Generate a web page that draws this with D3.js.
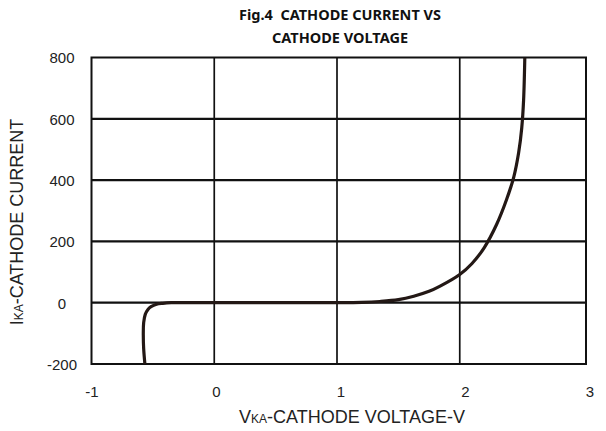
<!DOCTYPE html>
<html>
<head>
<meta charset="utf-8">
<script src="https://cdn.jsdelivr.net/npm/d3@7"></script>
<style>
  body { margin: 0; background: #fff; }
  svg { display: block; }
</style>
</head>
<body>
<div id="chart"></div>
<script>
// curve (V, mA)
const voltage = [-0.565, -0.575, -0.578, -0.575, -0.562, -0.54, -0.515, -0.47, -0.42, -0.35, -0.2, 0, 0.5, 1.0, 1.2, 1.35, 1.5, 1.625, 1.75, 1.84, 2.0, 2.1, 2.2, 2.3, 2.38, 2.44, 2.48, 2.505, 2.52, 2.53]
const current = [-200, -150, -100, -65, -38, -22, -13, -5, -2, 0, 0, 0, 0, 0, 1, 4, 10, 21, 37, 54, 92, 128, 180, 255, 335, 410, 490, 570, 660, 800]
const xTicks = [-1, 0, 1, 2, 3]
const yTicks = [-200, 0, 200, 400, 600, 800]
const titleLines = ["Fig.4\u00a0\u00a0CATHODE CURRENT VS", "CATHODE VOLTAGE"]

const width = 606, height = 431
const plot = { left: 91.5, right: 586, top: 57.5, bottom: 364 }

const svg = d3.select("#chart").append("svg")
  .attr("width", width)
  .attr("height", height)

const x = d3.scaleLinear().domain([-1, 3]).range([plot.left, 582.5])
const y = d3.scaleLinear().domain([-200, 800]).range([plot.bottom, plot.top])
// tick labels sit a little right of the grid in the original
const xLab = d3.scaleLinear().domain([-1, 3]).range([92, 590])

//grid
svg.append("g")
  .selectAll("line")
  .data(xTicks.filter(d => d > -1 && d < 3))
  .join("line")
  .attr("x1", d => x(d)).attr("x2", d => x(d))
  .attr("y1", plot.top).attr("y2", plot.bottom)
  .style("stroke", "#111")
  .style("stroke-width", 1.7)

svg.append("g")
  .selectAll("line")
  .data(yTicks.filter(d => d > -200 && d < 800))
  .join("line")
  .attr("x1", plot.left).attr("x2", plot.right)
  .attr("y1", d => y(d)).attr("y2", d => y(d))
  .style("stroke", "#111")
  .style("stroke-width", 2.2)

//frame
svg.append("rect")
  .attr("x", plot.left).attr("y", plot.top)
  .attr("width", plot.right - plot.left)
  .attr("height", plot.bottom - plot.top)
  .attr("fill", "none")
  .style("stroke", "#111")
  .style("stroke-width", 2)

svg.append("clipPath").attr("id", "clip")
  .append("rect")
  .attr("x", plot.left).attr("y", plot.top)
  .attr("width", plot.right - plot.left)
  .attr("height", plot.bottom - plot.top)

const line = d3.line()
  .x(i => x(voltage[i]))
  .y(i => y(current[i]))
  .curve(d3.curveCatmullRom.alpha(0.5))

svg.append("path")
  .attr("clip-path", "url(#clip)")
  .attr("d", line(d3.range(voltage.length)))
  .attr("fill", "none")
  .style("stroke", "#231815")
  .style("stroke-width", 3.2)
  .style("stroke-linejoin", "round")

//tick labels
const tickFont = "Liberation Sans, Arial, sans-serif"
svg.append("g")
  .selectAll("text")
  .data(yTicks)
  .join("text")
  .attr("x", 62)
  .attr("y", d => y(d) + 2)
  .attr("text-anchor", "middle")
  .attr("dominant-baseline", "middle")
  .style("font-family", tickFont)
  .style("font-size", "15px")
  .attr("fill", "#222")
  .text(d => d)

svg.append("g")
  .selectAll("text")
  .data(xTicks)
  .join("text")
  .attr("x", d => xLab(d))
  .attr("y", 397)
  .attr("text-anchor", "middle")
  .style("font-family", tickFont)
  .style("font-size", "15px")
  .attr("fill", "#222")
  .text(d => d)

//axis titles
const xt = svg.append("text")
  .attr("x", 352).attr("y", 423)
  .attr("text-anchor", "middle")
  .style("font-family", tickFont)
  .style("font-size", "18px")
  .attr("fill", "#222")
xt.append("tspan").text("V")
xt.append("tspan").style("font-size", "12px").text("KA")
xt.append("tspan").text("-CATHODE VOLTAGE-V")

const yt = svg.append("text")
  .attr("transform", "translate(23,222) rotate(-90)")
  .attr("text-anchor", "middle")
  .style("font-family", tickFont)
  .style("font-size", "18px")
  .attr("fill", "#222")
yt.append("tspan").text("I")
yt.append("tspan").style("font-size", "12px").text("KA")
yt.append("tspan").text("-CATHODE CURRENT")

//title
svg.append("g")
  .selectAll("text")
  .data(titleLines)
  .join("text")
  .attr("x", 340)
  .attr("y", (d, i) => 20 + i * 23)
  .attr("text-anchor", "middle")
  .style("font-family", "Noto Sans, sans-serif")
  .style("font-weight", "bold")
  .style("font-size", "14.5px")
  .attr("fill", "#111")
  .text(d => d)
</script>
</body>
</html>
